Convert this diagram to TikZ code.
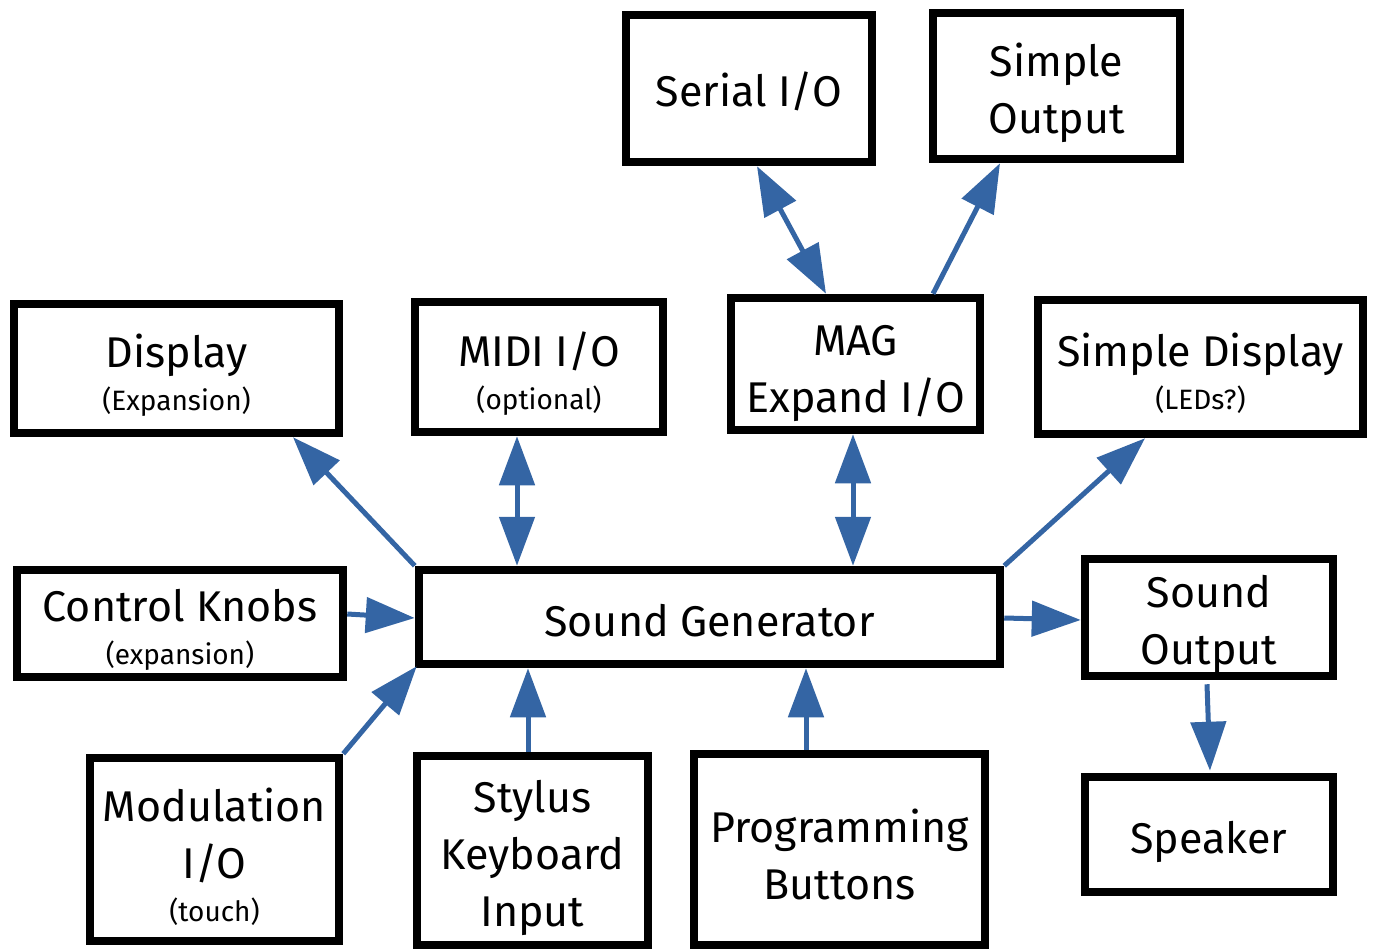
\documentclass[tikz,border=0pt]{standalone}
\usepackage{fontspec}
\setmainfont{Fira Sans}
\usetikzlibrary{arrows.meta,calc}
\definecolor{arrblue}{HTML}{3465A4}
\newcommand\subt[1]{{\fontsize{28}{34}\selectfont #1}}
\begin{document}
\begin{tikzpicture}[x=1pt,y=-1pt,
  box/.style={draw, line width=8.5pt, inner sep=0pt},
  txt/.style={align=center, inner sep=0pt, font=\fontsize{43}{57}\selectfont},
  arr/.style={draw=arrblue, line width=5pt, -{Triangle[length=49pt,width=35pt]}},
  darr/.style={draw=arrblue, line width=5pt, {Triangle[length=49pt,width=35pt]}-{Triangle[length=49pt,width=35pt]}}]
\useasboundingbox (0,0) rectangle (1374,949);
% boxes
\node[box, minimum width=246pt, minimum height=147pt] (ser) at (749,88.5) {};
\node[box, minimum width=247pt, minimum height=146pt] (sout) at (1056.5,86) {};
\node[box, minimum width=325pt, minimum height=129pt] (disp) at (176.5,368.5) {};
\node[box, minimum width=248pt, minimum height=130pt] (midi) at (539,367) {};
\node[box, minimum width=249pt, minimum height=132pt] (mag) at (855.5,364) {};
\node[box, minimum width=325pt, minimum height=134pt] (sdisp) at (1200.5,367) {};
\node[box, minimum width=326pt, minimum height=107pt] (knob) at (180,623.5) {};
\node[box, minimum width=581pt, minimum height=94pt] (sg) at (709.5,617) {};
\node[box, minimum width=248pt, minimum height=117pt] (sndout) at (1209,617.5) {};
\node[box, minimum width=249pt, minimum height=183pt] (mod) at (214.5,849.5) {};
\node[box, minimum width=231pt, minimum height=189pt] (sty) at (532.5,850.5) {};
\node[box, minimum width=291pt, minimum height=191pt] (prog) at (839.5,849.5) {};
\node[box, minimum width=248pt, minimum height=115pt] (spk) at (1209,834.5) {};
% texts
\node[txt] (serT) at ($(ser)+(0,3)$) {Serial I/O};
\node[txt] (soutT) at ($(sout)+(0,7)$) {Simple\\Output};
\node[txt] (dispT) at ($(disp)+(0,6.5)$) {Display\\[-14pt]\subt{(Expansion)}};
\node[txt] (midiT) at ($(midi)+(0,6.5)$) {MIDI I/O\\[-14pt]\subt{(optional)}};
\node[txt] (magT) at ($(mag)+(0,10)$) {MAG\\Expand I/O};
\node[txt] (sdispT) at ($(sdisp)+(0,6.5)$) {Simple Display\\[-14pt]\subt{(LEDs?)}};
\node[txt] (knobT) at ($(knob)+(0,6.5)$) {Control Knobs\\[-14pt]\subt{(expansion)}};
\node[txt] (sgT) at ($(sg)+(0,4)$) {Sound Generator};
\node[txt] (sndoutT) at ($(sndout)+(0,7)$) {Sound\\Output};
\node[txt] (modT) at ($(mod)+(0,7)$) {Modulation\\I/O\\[-14pt]\subt{(touch)}};
\node[txt] (styT) at ($(sty)+(0,7)$) {Stylus\\Keyboard\\Input};
\node[txt] (progT) at ($(prog)+(0,5)$) {Programming\\Buttons};
\node[txt] (spkT) at ($(spk)+(0,7)$) {Speaker};
% connectors
\draw[arr] (sg.north west) -- ($(disp.south)+(116.5,0)$);
\draw[darr] ($(sg.north)+(-192.5,0)$) -- ($(midi.south)+(-22,0)$);
\draw[darr] ($(sg.north)+(143.5,0)$) -- ($(mag.south)+(-2.5,0)$);
\draw[arr] (sg.north east) -- ($(sdisp.south)+(-55.5,0)$);
\draw[arr] ($(knob.east)+(0,-9.5)$) -- ($(sg.west)+(0,1)$);
\draw[arr] (mod.north east) -- ($(sg.south west)+(2,-2)$);
\draw[arr] ($(sty.north)+(-4.5,0)$) -- ($(sg.south)+(-181.5,0)$);
\draw[arr] ($(prog.north)+(-33.5,0)$) -- ($(sg.south)+(96.5,0)$);
\draw[arr] ($(sg.east)+(0,1)$) -- ($(sndout.west)+(0,2.5)$);
\draw[arr] ($(sndout.south)+(-2,4)$) -- ($(spk.north)+(1,-2)$);
\draw[darr] ($(mag.north)+(-29.5,0)$) -- ($(ser.south)+(8,0)$);
\draw[arr] ($(mag.north)+(77.5,0)$) -- ($(sout.south)+(-56.5,0)$);
\end{tikzpicture}
\end{document}
